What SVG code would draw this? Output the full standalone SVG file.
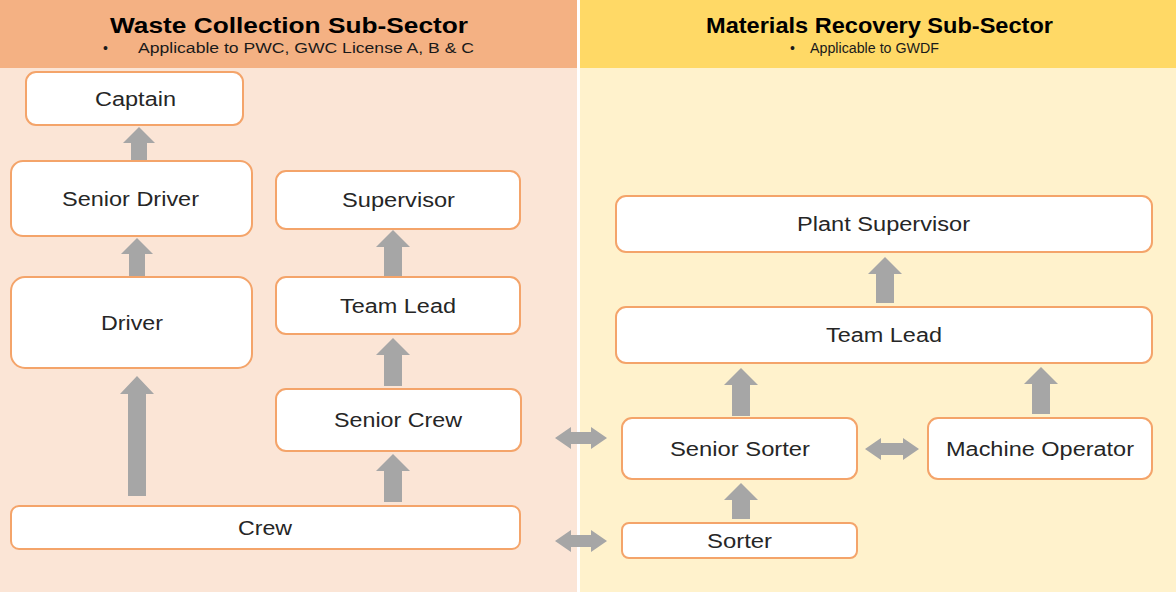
<svg xmlns="http://www.w3.org/2000/svg" width="1176" height="592" viewBox="0 0 1176 592">
<style>
.node rect{fill:#fff;stroke:#F4A46A;stroke-width:2}
.lbl{font-family:"Liberation Sans",Arial,sans-serif;font-size:20px;fill:#262626;text-anchor:middle;dominant-baseline:central}
.ttl{font-family:"Liberation Sans",Arial,sans-serif;font-size:22px;font-weight:bold;fill:#000;text-anchor:middle}
.sub{font-family:"Liberation Sans",Arial,sans-serif;font-size:14px;fill:#1a1a1a}
.arr{fill:#A6A6A6}
</style>
<rect x="0" y="0" width="1176" height="592" fill="#fff"/>
<rect x="0" y="0" width="577" height="68" fill="#F4B183"/>
<rect x="0" y="68" width="577" height="524" fill="#FBE5D6"/>
<rect x="580" y="0" width="596" height="68" fill="#FFD966"/>
<rect x="580" y="68" width="596" height="524" fill="#FFF2CC"/>
<text class="ttl" x="289" y="33" textLength="358" lengthAdjust="spacingAndGlyphs">Waste Collection Sub-Sector</text>
<text class="sub" x="103" y="53">•</text>
<text class="sub" x="138" y="53" textLength="336" lengthAdjust="spacingAndGlyphs">Applicable to PWC, GWC License A, B &amp; C</text>
<text class="ttl" x="879.5" y="33" textLength="347" lengthAdjust="spacingAndGlyphs">Materials Recovery Sub-Sector</text>
<text class="sub" x="790" y="53">•</text>
<text class="sub" x="810" y="53" textLength="129" lengthAdjust="spacingAndGlyphs">Applicable to GWDF</text>
<g id="connectors">
<polygon class="arr" points="139,127 155,143 147,143 147,160 131,160 131,143 123,143"/>
<polygon class="arr" points="137,238 153,254 145,254 145,276 129,276 129,254 121,254"/>
<polygon class="arr" points="137,376 154,394 146,394 146,496 128,496 128,394 120,394"/>
<polygon class="arr" points="393,230 410,247 402,247 402,276 384,276 384,247 376,247"/>
<polygon class="arr" points="393,338 410,355 402,355 402,386 384,386 384,355 376,355"/>
<polygon class="arr" points="393,454 410,471 402,471 402,502 384,502 384,471 376,471"/>
<polygon class="arr" points="885,257 902,274 894,274 894,303 876,303 876,274 868,274"/>
<polygon class="arr" points="741,368 758,385 750,385 750,416 732,416 732,385 724,385"/>
<polygon class="arr" points="1041,367 1058,384 1050,384 1050,414 1032,414 1032,384 1024,384"/>
<polygon class="arr" points="741,483 758,500 750,500 750,519 732,519 732,500 724,500"/>
<polygon class="arr" points="555,438 571,427 571,432 591,432 591,427 607,438 591,449 591,444 571,444 571,449"/>
<polygon class="arr" points="555,541 571,530 571,535 591,535 591,530 607,541 591,552 591,547 571,547 571,552"/>
<polygon class="arr" points="865,449 881,438 881,443 903,443 903,438 919,449 903,460 903,455 881,455 881,460"/>
</g>
<g id="captain" class="node"><rect x="26" y="72" width="217" height="53" rx="10"/><text class="lbl" x="135.5" y="98.5" textLength="81" lengthAdjust="spacingAndGlyphs">Captain</text></g>
<g id="senior-driver" class="node"><rect x="11" y="161" width="241" height="75" rx="12"/><text class="lbl" x="130.5" y="198.5" textLength="137" lengthAdjust="spacingAndGlyphs">Senior Driver</text></g>
<g id="driver" class="node"><rect x="11" y="277" width="241" height="91" rx="14"/><text class="lbl" x="132" y="322.5" textLength="62" lengthAdjust="spacingAndGlyphs">Driver</text></g>
<g id="supervisor" class="node"><rect x="276" y="171" width="244" height="58" rx="10"/><text class="lbl" x="398.5" y="200" textLength="113" lengthAdjust="spacingAndGlyphs">Supervisor</text></g>
<g id="team-lead-wc" class="node"><rect x="276" y="277" width="244" height="57" rx="10"/><text class="lbl" x="398" y="305.5" textLength="116" lengthAdjust="spacingAndGlyphs">Team Lead</text></g>
<g id="senior-crew" class="node"><rect x="276" y="389" width="245" height="62" rx="10"/><text class="lbl" x="398" y="420" textLength="128" lengthAdjust="spacingAndGlyphs">Senior Crew</text></g>
<g id="crew" class="node"><rect x="11" y="506" width="509" height="43" rx="8"/><text class="lbl" x="265" y="527.5" textLength="54" lengthAdjust="spacingAndGlyphs">Crew</text></g>
<g id="plant-supervisor" class="node"><rect x="616" y="196" width="536" height="56" rx="10"/><text class="lbl" x="883.5" y="224" textLength="173" lengthAdjust="spacingAndGlyphs">Plant Supervisor</text></g>
<g id="team-lead-mr" class="node"><rect x="616" y="307" width="536" height="56" rx="10"/><text class="lbl" x="884" y="335" textLength="116" lengthAdjust="spacingAndGlyphs">Team Lead</text></g>
<g id="senior-sorter" class="node"><rect x="622" y="418" width="235" height="61" rx="10"/><text class="lbl" x="740" y="449" textLength="140" lengthAdjust="spacingAndGlyphs">Senior Sorter</text></g>
<g id="machine-operator" class="node"><rect x="928" y="418" width="224" height="61" rx="10"/><text class="lbl" x="1040" y="449" textLength="188" lengthAdjust="spacingAndGlyphs">Machine Operator</text></g>
<g id="sorter" class="node"><rect x="622" y="523" width="235" height="35" rx="7"/><text class="lbl" x="739.5" y="541" textLength="65" lengthAdjust="spacingAndGlyphs">Sorter</text></g>
</svg>
